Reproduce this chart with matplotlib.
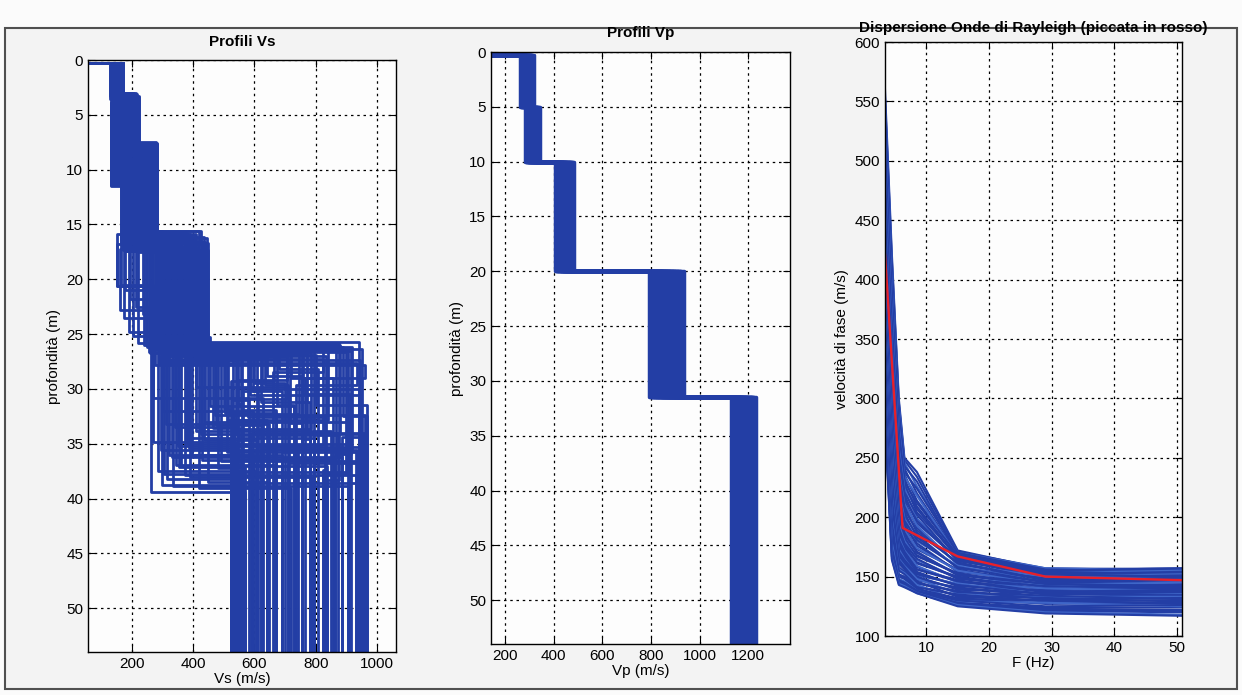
import matplotlib
matplotlib.use('Agg')
import matplotlib.pyplot as plt
from matplotlib.patches import Rectangle

plt.rcParams['font.family'] = ['Liberation Sans Narrow', 'Liberation Sans', 'DejaVu Sans']
plt.rcParams['font.size'] = 11

# ---------------- Vs profiles (layer velocities and interface depths) ----------------
vs_top = 60
vs1 = [132, 140, 150, 158, 165, 170, 135, 145, 155, 162, 168, 172,
       130, 138, 148, 156, 163, 171, 134, 142, 152, 160, 166, 170,
       131, 139, 147, 157, 164, 169, 136, 144, 153, 161, 167, 172,
       133, 141, 149, 159, 165, 170, 137, 146, 154, 158, 162, 168,
       143, 151, 160, 167, 134, 139, 157, 164, 171, 129,
       146, 153, 161, 168, 136, 142, 150, 158, 165, 172,
       132, 140, 147, 155, 163, 169, 135, 144, 152, 159,
       166, 171, 131, 138, 149, 156, 162, 170, 137, 145]
d1 = [3.2, 3.5, 3.3, 3.8, 3.1, 3.6, 3.0, 3.7, 3.4, 3.9, 3.5, 3.2,
      3.3, 3.6, 3.1, 3.8, 3.4, 3.0, 3.7, 3.2, 3.9, 3.5, 3.1, 3.6,
      3.4, 3.8, 3.3, 3.0, 3.7, 3.2, 3.5, 3.9, 3.1, 3.6, 3.4, 3.8,
      3.0, 3.5, 3.3, 3.7, 3.2, 3.6, 3.9, 3.1, 3.4, 3.8, 3.5, 3.3,
      3.4, 3.1, 3.7, 3.3, 3.9, 3.5, 3.2, 3.8, 3.0, 3.6,
      3.3, 3.9, 3.4, 3.1, 3.7, 3.5, 3.2, 3.8, 3.0, 3.6,
      3.5, 3.1, 3.7, 3.3, 3.9, 3.4, 3.2, 3.8, 3.0, 3.6,
      3.3, 3.7, 3.5, 3.1, 3.9, 3.4, 3.2, 3.8, 3.6, 3.0]
vs2 = [131, 138, 145, 152, 160, 168, 175, 182, 190, 198, 205, 215,
       222, 135, 142, 148, 155, 162, 170, 178, 186, 194, 202, 210,
       225, 133, 140, 147, 153, 159, 165, 172, 180, 188, 196, 204,
       212, 218, 137, 144, 150, 157, 163, 169, 176, 184, 192, 200,
       134, 141, 149, 156, 164, 171, 179, 187, 195, 203,
       211, 219, 136, 143, 151, 158, 166, 173, 181, 189,
       197, 207, 214, 139, 146, 154, 161, 169, 177, 185,
       193, 201, 209, 217, 132, 144, 158, 174, 188, 206]
d2 = [11.4, 11.0, 10.6, 10.2, 9.8, 9.5, 9.2, 9.0, 8.8, 8.5, 8.2, 7.9,
      7.6, 11.2, 10.8, 10.4, 10.0, 9.6, 9.3, 9.1, 8.9, 8.6, 8.3, 8.0,
      7.5, 11.5, 10.9, 10.5, 10.1, 9.7, 9.4, 9.1, 8.9, 8.7, 8.4, 8.1,
      7.8, 7.7, 11.3, 10.7, 10.3, 9.9, 9.6, 9.2, 8.9, 8.7, 8.5, 8.2,
      11.1, 10.7, 10.3, 9.9, 9.5, 9.2, 8.9, 8.7, 8.4, 8.1,
      7.9, 7.7, 11.3, 10.9, 10.5, 10.1, 9.7, 9.3, 9.0, 8.8,
      8.5, 8.1, 7.8, 11.0, 10.6, 10.2, 9.8, 9.4, 9.1, 8.8,
      8.6, 8.3, 8.0, 7.7, 11.4, 10.6, 9.9, 9.1, 8.6, 8.1]
vs3 = [166, 172, 180, 190, 200, 210, 220, 230, 240, 250, 262, 275,
       283, 170, 176, 185, 195, 205, 215, 225, 235, 245, 255, 268,
       280, 168, 178, 188, 198, 208, 218, 228, 238, 248, 258, 270,
       278, 282, 169, 179, 189, 199, 209, 219, 229, 239, 249, 259,
       173, 182, 192, 202, 212, 222, 232, 242, 252, 265,
       272, 281, 167, 177, 187, 197, 207, 217, 227, 237,
       247, 260, 276, 171, 181, 191, 201, 211, 221, 231,
       243, 253, 263, 273, 165, 184, 203, 223, 244, 266]
d3 = [16.8, 17.2, 16.4, 17.0, 16.2, 15.8, 16.6, 17.4, 16.0, 15.6, 16.9, 16.1,
      15.9, 17.3, 16.5, 17.1, 16.3, 15.7, 16.7, 17.5, 16.2, 15.8, 16.8, 16.0,
      16.4, 17.0, 16.6, 17.2, 16.1, 15.9, 16.9, 17.3, 16.3, 15.7, 16.7, 16.2,
      17.1, 16.0, 16.4, 17.4, 16.8, 15.6, 16.5, 17.2, 16.1, 16.9, 15.8, 17.0,
      16.5, 17.1, 15.9, 16.7, 17.3, 16.2, 16.8, 15.7, 17.0, 16.4,
      16.1, 16.9, 17.2, 16.3, 15.8, 16.6, 17.4, 16.0, 16.5, 17.1,
      15.9, 16.7, 16.2, 16.8, 17.3, 16.1, 15.6, 16.9, 17.2, 16.4,
      16.0, 16.6, 17.0, 15.8, 16.3, 17.4, 16.7, 16.2, 15.9, 16.5]
vs4 = [152, 160, 175, 190, 205, 220, 240, 260, 280, 300, 320, 340,
       390, 450, 430, 410, 395, 375, 355, 335, 315, 295, 275, 255,
       235, 215, 195, 178, 165, 150, 245, 265, 285, 305, 325, 345,
       365, 385, 405, 425, 445, 420, 400, 380, 360, 340, 310, 290,
       300, 330, 360, 390, 420, 445, 310, 340, 370, 400,
       435, 285, 315, 350, 380, 415, 440, 325, 355, 385,
       410, 448, 295, 335, 365, 395, 425, 305, 345, 375,
       405, 438, 290, 320, 350, 398, 428, 270, 260, 250]
d4 = [20.6, 22.8, 23.5, 24.8, 25.2, 25.8, 26.0, 26.2, 26.4, 26.6, 26.8, 27.0,
      26.1, 25.9, 26.3, 26.5, 26.7, 26.9, 26.0, 26.0, 26.2, 26.4, 27.8, 26.6,
      23.2, 22.5, 21.8, 21.0, 20.5, 20.6, 26.0, 26.1, 26.3, 26.5, 26.7, 26.9,
      26.2, 26.4, 26.6, 26.8, 27.0, 26.0, 25.7, 25.3, 26.0, 26.3, 26.5, 27.6,
      26.4, 26.8, 25.9, 27.2, 26.6, 26.1, 27.4, 26.3, 25.8, 26.9,
      27.1, 26.0, 26.7, 27.3, 26.0, 26.5, 25.7, 27.0, 26.2, 26.8,
      25.6, 26.4, 27.5, 25.9, 26.6, 27.2, 26.1, 26.2, 26.9, 26.3,
      27.0, 25.8, 26.5, 27.4, 26.0, 26.7, 25.9, 26.4, 26.7, 26.2]
vs5 = [300, 262, 285, 320, 350, 380, 410, 440, 470, 500, 530, 560,
       600, 640, 680, 720, 760, 800, 840, 880, 920, 950, 960, 900,
       430, 380, 340, 300, 270, 410, 620, 580, 540, 510, 480, 450,
       420, 390, 360, 330, 295, 270, 310, 455, 585, 705, 825, 935,
       305, 345, 385, 425, 465, 505, 545, 585, 625, 665,
       705, 745, 785, 825, 865, 905, 940, 315, 355, 395,
       435, 475, 515, 555, 595, 635, 675, 715, 755, 795,
       835, 875, 915, 945, 335, 375, 490, 610, 770, 890]
d5 = [38.8, 39.4, 37.5, 36.0, 35.2, 34.5, 33.8, 33.0, 32.4, 31.8, 31.0, 30.2,
      29.5, 28.8, 28.2, 29.0, 30.5, 31.5, 32.8, 34.0, 35.5, 36.8, 29.0, 37.8,
      36.5, 35.0, 33.5, 32.0, 30.8, 29.8, 31.2, 32.6, 34.2, 35.8, 37.2, 38.5,
      39.0, 38.0, 37.0, 36.2, 35.6, 34.8, 33.2, 31.6, 30.0, 29.2, 28.5, 29.6,
      37.8, 36.9, 35.4, 34.1, 33.6, 32.2, 31.4, 30.6, 29.9, 29.3,
      30.9, 32.3, 33.7, 35.1, 36.4, 37.6, 38.6, 38.2, 37.1, 36.0,
      34.7, 33.3, 32.8, 31.9, 30.2, 29.6, 31.5, 33.1, 34.6, 36.1,
      37.4, 38.3, 35.9, 34.4, 38.9, 37.9, 36.6, 35.3, 34.0, 32.5]
vs6 = [523, 568, 605, 689, 742, 796, 849, 906, 960, 527, 582, 612,
       699, 756, 809, 856, 911, 967, 531, 588, 620, 709, 766, 823,
       863, 916, 535, 595, 628, 714, 782, 830, 873, 930, 539, 642,
       719, 789, 836, 886, 936, 543, 648, 729, 942, 547, 662, 735,
       551, 668, 523, 954, 555, 672, 559, 948, 563, 525,
       531, 533, 547, 541, 555, 549, 563, 557, 568, 595,
       605, 620, 642, 672, 689, 709, 729, 756, 782, 796,
       823, 836, 863, 886, 906, 930, 942, 954, 960, 967]
depth_max = 54

# ---------------- Vp profiles (fixed interfaces) ----------------
vp_top = 150
vp_interfaces = [5, 10, 20, 31.5]
vp1 = [290, 265, 310, 275, 300, 318, 262, 296, 283, 306,
       270, 313, 287, 279, 303, 268, 316, 293, 285, 309]
vp2 = [300, 285, 330, 295, 315, 340, 290, 322, 308, 283,
       336, 298, 318, 305, 327, 288, 343, 311, 294, 333]
vp3 = [440, 405, 470, 420, 455, 482, 412, 462, 432, 448,
       478, 408, 425, 467, 437, 452, 416, 474, 444, 430]
vp4 = [850, 795, 910, 820, 880, 935, 805, 865, 900, 790,
       840, 925, 812, 872, 858, 890, 830, 918, 800, 845]
vp5 = [1180, 1135, 1220, 1150, 1200, 1232, 1140, 1190, 1165, 1210,
       1130, 1175, 1225, 1155, 1195, 1145, 1215, 1170, 1185, 1160]

# ---------------- Rayleigh dispersion curves ----------------
freq = [3.4, 4.5, 5.6, 6.5, 8.5, 15, 29, 50.8]
curves = [
    [560, 421, 300, 250, 238, 172, 156, 157],
    [553, 416, 297, 248, 234, 171, 157, 156],
    [548, 412, 294, 246, 226, 170, 157, 155],
    [541, 408, 290, 243, 230, 169, 155, 157],
    [536, 404, 286, 241, 220, 168, 154, 156],
    [529, 400, 283, 238, 224, 170, 156, 154],
    [522, 396, 280, 236, 214, 169, 155, 153],
    [516, 391, 276, 234, 218, 167, 153, 155],
    [510, 386, 272, 232, 209, 166, 152, 154],
    [504, 382, 269, 230, 212, 168, 154, 152],
    [498, 378, 266, 228, 204, 167, 153, 151],
    [492, 373, 262, 226, 207, 165, 151, 153],
    [486, 368, 258, 224, 199, 164, 150, 152],
    [480, 362, 254, 221, 202, 163, 152, 150],
    [474, 356, 250, 219, 195, 165, 151, 149],
    [468, 351, 246, 216, 197, 164, 149, 151],
    [462, 346, 243, 214, 191, 161, 149, 150],
    [456, 341, 239, 211, 193, 160, 150, 148],
    [450, 336, 236, 209, 187, 162, 147, 147],
    [445, 331, 232, 206, 189, 161, 147, 149],
    [440, 326, 229, 204, 183, 158, 148, 145],
    [435, 321, 225, 201, 185, 157, 148, 146],
    [430, 316, 222, 199, 180, 159, 145, 146],
    [425, 311, 218, 197, 181, 158, 145, 147],
    [421, 306, 215, 195, 176, 155, 146, 143],
    [416, 302, 212, 193, 178, 154, 146, 144],
    [412, 298, 209, 191, 173, 156, 143, 144],
    [407, 294, 206, 189, 174, 155, 143, 145],
    [402, 290, 204, 187, 170, 152, 144, 141],
    [398, 286, 201, 185, 171, 151, 144, 142],
    [394, 282, 199, 183, 167, 153, 141, 142],
    [390, 278, 196, 181, 168, 152, 141, 143],
    [386, 274, 194, 180, 164, 149, 142, 139],
    [382, 270, 191, 178, 165, 148, 142, 140],
    [378, 266, 189, 177, 161, 150, 139, 140],
    [374, 262, 187, 175, 162, 149, 139, 141],
    [370, 258, 185, 174, 158, 146, 140, 137],
    [366, 254, 183, 172, 159, 145, 140, 138],
    [362, 250, 181, 171, 156, 147, 137, 138],
    [358, 246, 179, 169, 156, 146, 137, 139],
    [355, 243, 177, 168, 153, 143, 138, 135],
    [351, 239, 175, 166, 154, 142, 138, 136],
    [348, 236, 173, 165, 151, 144, 135, 136],
    [344, 232, 171, 164, 152, 143, 135, 137],
    [341, 229, 170, 163, 149, 140, 136, 133],
    [337, 225, 168, 161, 150, 139, 136, 134],
    [334, 222, 167, 160, 147, 141, 133, 134],
    [331, 218, 165, 159, 148, 136, 133, 133],
    [328, 215, 164, 158, 145, 137, 134, 131],
    [325, 211, 162, 157, 146, 133, 130, 130],
    [322, 208, 161, 156, 144, 138, 131, 132],
    [316, 201, 158, 154, 142, 134, 132, 129],
    [313, 198, 156, 153, 143, 130, 128, 127],
    [310, 195, 155, 152, 141, 135, 129, 130],
    [304, 189, 152, 150, 140, 131, 130, 127],
    [301, 186, 151, 149, 140, 128, 124, 124],
    [299, 183, 150, 148, 139, 132, 127, 128],
    [294, 178, 148, 146, 138, 129, 128, 125],
    [290, 174, 147, 145, 138, 130, 125, 126],
    [288, 172, 146, 144, 138, 126, 122, 121],
    [286, 170, 146, 144, 137, 127, 123, 122],
    [283, 167, 145, 143, 137, 128, 121, 120],
    [281, 165, 144, 142, 136, 126, 120, 118],
    [280, 164, 143, 141, 136, 125, 119, 117],
]
picked_freq = [3.4, 6.2, 15, 29, 50.8]
picked_vel = [421, 191, 167, 150, 147]

blue = '#233ea5'
light_blue = '#3f66c8'

fig = plt.figure(figsize=(12.42, 6.95), dpi=100, facecolor='#fbfbfb')
fig.patches.append(Rectangle((5 / 1242, 1 - 689 / 695), 1232 / 1242, 661 / 695,
                             transform=fig.transFigure, facecolor='#f3f3f3',
                             edgecolor='#505050', lw=1.5, zorder=-1))

ax1 = fig.add_axes([88 / 1242, 1 - 652 / 695, 308 / 1242, 592 / 695])
ax2 = fig.add_axes([491 / 1242, 1 - 644 / 695, 299 / 1242, 592 / 695])
ax3 = fig.add_axes([885 / 1242, 1 - 636 / 695, 297 / 1242, 594 / 695])

# Vs
for i in range(len(vs1)):
    v = [vs1[i], vs2[i], vs3[i], vs4[i], vs5[i], vs6[i]]
    d = [0.3, d1[i], d2[i], d3[i], d4[i], d5[i], depth_max]
    xs = [vs_top]
    ys = [0.3]
    for k in range(6):
        xs += [v[k], v[k]]
        ys += [d[k], d[k + 1]]
    ax1.plot(xs, ys, color=blue, lw=2.0)

# Vp
for i in range(len(vp1)):
    v = [vp1[i], vp2[i], vp3[i], vp4[i], vp5[i]]
    d = [0.3] + vp_interfaces + [depth_max]
    xs = [vp_top]
    ys = [0.3]
    for k in range(5):
        xs += [v[k], v[k]]
        ys += [d[k], d[k + 1]]
    ax2.plot(xs, ys, color=blue, lw=2.5)

# dispersion
for i, c in enumerate(curves):
    ax3.plot(freq, c, color=light_blue if i % 5 == 2 else blue, lw=1.5)
ax3.plot(picked_freq, picked_vel, color='#e8202a', lw=1.7)

grid_kw = dict(color='black', linestyle=(0, (2, 3)), linewidth=0.9)
for ax in (ax1, ax2, ax3):
    ax.set_facecolor('#fdfdfd')
    ax.set_axisbelow(True)
    ax.grid(True, **grid_kw)
    ax.tick_params(direction='in', top=True, right=True, length=5, labelsize=11)
    for s in ax.spines.values():
        s.set_linewidth(1.0)

ax1.set_xlim(57, 1062)
ax1.set_ylim(54, 0)
ax1.set_xticks([200, 400, 600, 800, 1000])
ax1.set_yticks(range(0, 51, 5))
ax1.set_xlabel('Vs (m/s)', labelpad=1)
ax1.set_ylabel('profondità (m)')
ax1.set_title('Profili Vs', fontweight='bold', fontsize=11, pad=10)

ax2.set_xlim(143, 1371)
ax2.set_ylim(54, 0)
ax2.set_xticks([200, 400, 600, 800, 1000, 1200])
ax2.set_yticks(range(0, 51, 5))
ax2.set_xlabel('Vp (m/s)', labelpad=1)
ax2.set_ylabel('profondità (m)')
ax2.set_title('Profili Vp', fontweight='bold', fontsize=11, pad=11)

ax3.set_xlim(3.4, 50.8)
ax3.set_ylim(100, 600)
ax3.set_xticks([10, 20, 30, 40, 50])
ax3.set_yticks(range(100, 601, 50))
ax3.set_xlabel('F (Hz)', labelpad=1)
ax3.set_ylabel('velocità di fase (m/s)')
ax3.set_title('Dispersione Onde di Rayleigh (piccata in rosso)', fontweight='bold',
              fontsize=11, pad=7)

fig.savefig('out.png', dpi=100, facecolor=fig.get_facecolor())
